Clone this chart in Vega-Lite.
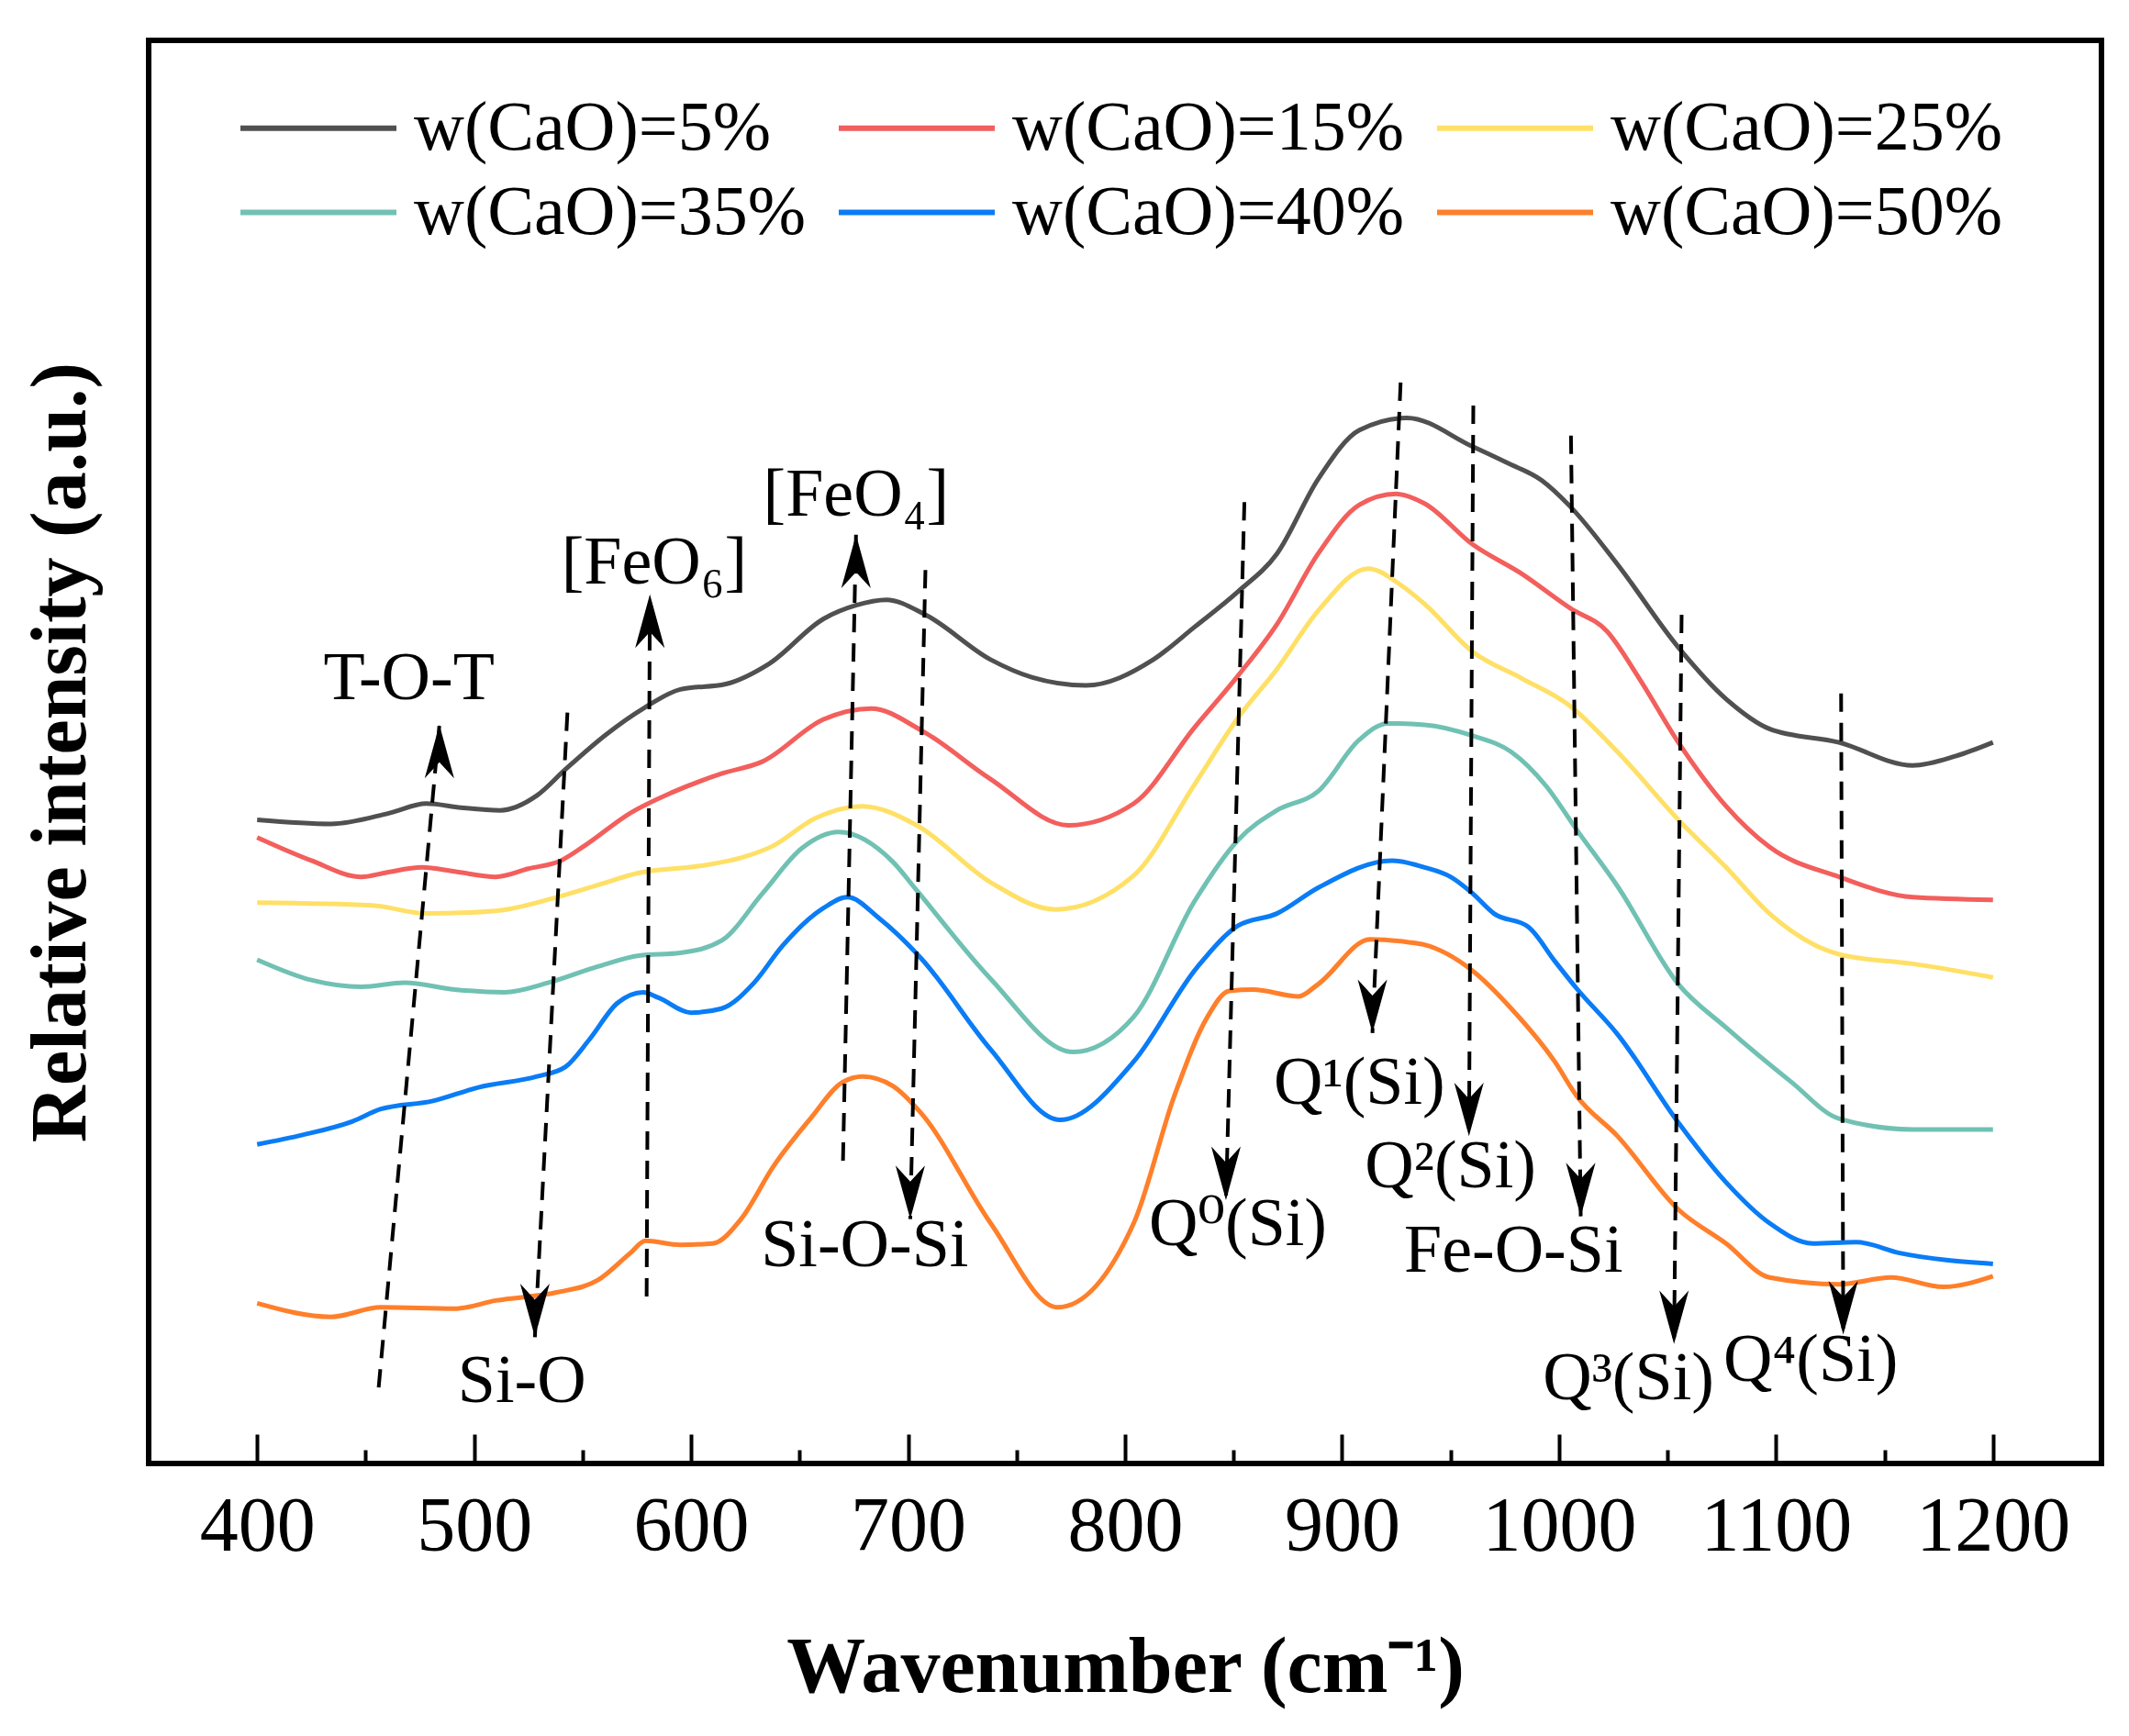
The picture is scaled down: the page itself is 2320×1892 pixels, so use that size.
{
  "$schema": "https://vega.github.io/schema/vega-lite/v6.json",
  "width": 2128,
  "height": 1551,
  "autosize": {"type": "none"},
  "padding": {"left": 162, "top": 44, "right": 30, "bottom": 297},
  "background": "white",
  "config": {
    "view": {"stroke": "black", "strokeWidth": 6},
    "font": "Liberation Serif"
  },
  "datasets": {
    "spectra": [
      {"s": "w(CaO)=5%", "x": 400, "v": 474}, {"s": "w(CaO)=5%", "x": 434, "v": 471}, {"s": "w(CaO)=5%", "x": 461, "v": 479},
      {"s": "w(CaO)=5%", "x": 478, "v": 486}, {"s": "w(CaO)=5%", "x": 494, "v": 483}, {"s": "w(CaO)=5%", "x": 512, "v": 481},
      {"s": "w(CaO)=5%", "x": 529, "v": 492}, {"s": "w(CaO)=5%", "x": 542, "v": 511}, {"s": "w(CaO)=5%", "x": 561, "v": 537},
      {"s": "w(CaO)=5%", "x": 578, "v": 556}, {"s": "w(CaO)=5%", "x": 595, "v": 570}, {"s": "w(CaO)=5%", "x": 616, "v": 574},
      {"s": "w(CaO)=5%", "x": 636, "v": 589}, {"s": "w(CaO)=5%", "x": 661, "v": 622}, {"s": "w(CaO)=5%", "x": 676, "v": 632},
      {"s": "w(CaO)=5%", "x": 690, "v": 636}, {"s": "w(CaO)=5%", "x": 708, "v": 625}, {"s": "w(CaO)=5%", "x": 738, "v": 592},
      {"s": "w(CaO)=5%", "x": 757, "v": 579}, {"s": "w(CaO)=5%", "x": 782, "v": 573}, {"s": "w(CaO)=5%", "x": 813, "v": 592},
      {"s": "w(CaO)=5%", "x": 832, "v": 616}, {"s": "w(CaO)=5%", "x": 852, "v": 642}, {"s": "w(CaO)=5%", "x": 870, "v": 670},
      {"s": "w(CaO)=5%", "x": 889, "v": 725}, {"s": "w(CaO)=5%", "x": 908, "v": 761}, {"s": "w(CaO)=5%", "x": 930, "v": 770},
      {"s": "w(CaO)=5%", "x": 960, "v": 749}, {"s": "w(CaO)=5%", "x": 976, "v": 737}, {"s": "w(CaO)=5%", "x": 992, "v": 724},
      {"s": "w(CaO)=5%", "x": 1005, "v": 705}, {"s": "w(CaO)=5%", "x": 1027, "v": 662}, {"s": "w(CaO)=5%", "x": 1055, "v": 601},
      {"s": "w(CaO)=5%", "x": 1077, "v": 563}, {"s": "w(CaO)=5%", "x": 1097, "v": 541}, {"s": "w(CaO)=5%", "x": 1129, "v": 531},
      {"s": "w(CaO)=5%", "x": 1163, "v": 514}, {"s": "w(CaO)=5%", "x": 1183, "v": 521}, {"s": "w(CaO)=5%", "x": 1200, "v": 531},

      {"s": "w(CaO)=15%", "x": 400, "v": 461}, {"s": "w(CaO)=15%", "x": 425, "v": 444}, {"s": "w(CaO)=15%", "x": 448, "v": 432},
      {"s": "w(CaO)=15%", "x": 459, "v": 435}, {"s": "w(CaO)=15%", "x": 476, "v": 439}, {"s": "w(CaO)=15%", "x": 491, "v": 436},
      {"s": "w(CaO)=15%", "x": 510, "v": 432}, {"s": "w(CaO)=15%", "x": 525, "v": 438}, {"s": "w(CaO)=15%", "x": 540, "v": 444},
      {"s": "w(CaO)=15%", "x": 551, "v": 455}, {"s": "w(CaO)=15%", "x": 572, "v": 479}, {"s": "w(CaO)=15%", "x": 591, "v": 494},
      {"s": "w(CaO)=15%", "x": 614, "v": 508}, {"s": "w(CaO)=15%", "x": 633, "v": 517}, {"s": "w(CaO)=15%", "x": 661, "v": 548},
      {"s": "w(CaO)=15%", "x": 683, "v": 556}, {"s": "w(CaO)=15%", "x": 706, "v": 540}, {"s": "w(CaO)=15%", "x": 738, "v": 504},
      {"s": "w(CaO)=15%", "x": 774, "v": 470}, {"s": "w(CaO)=15%", "x": 804, "v": 486}, {"s": "w(CaO)=15%", "x": 832, "v": 542},
      {"s": "w(CaO)=15%", "x": 852, "v": 580}, {"s": "w(CaO)=15%", "x": 870, "v": 618}, {"s": "w(CaO)=15%", "x": 889, "v": 670},
      {"s": "w(CaO)=15%", "x": 908, "v": 706}, {"s": "w(CaO)=15%", "x": 925, "v": 714}, {"s": "w(CaO)=15%", "x": 938, "v": 707},
      {"s": "w(CaO)=15%", "x": 960, "v": 677}, {"s": "w(CaO)=15%", "x": 983, "v": 655}, {"s": "w(CaO)=15%", "x": 1005, "v": 630},
      {"s": "w(CaO)=15%", "x": 1022, "v": 613}, {"s": "w(CaO)=15%", "x": 1037, "v": 578}, {"s": "w(CaO)=15%", "x": 1055, "v": 531},
      {"s": "w(CaO)=15%", "x": 1077, "v": 484}, {"s": "w(CaO)=15%", "x": 1097, "v": 454}, {"s": "w(CaO)=15%", "x": 1129, "v": 432},
      {"s": "w(CaO)=15%", "x": 1163, "v": 417}, {"s": "w(CaO)=15%", "x": 1200, "v": 415},

      {"s": "w(CaO)=25%", "x": 400, "v": 413}, {"s": "w(CaO)=25%", "x": 453, "v": 411}, {"s": "w(CaO)=25%", "x": 478, "v": 405},
      {"s": "w(CaO)=25%", "x": 510, "v": 407}, {"s": "w(CaO)=25%", "x": 538, "v": 417}, {"s": "w(CaO)=25%", "x": 557, "v": 426},
      {"s": "w(CaO)=25%", "x": 576, "v": 435}, {"s": "w(CaO)=25%", "x": 604, "v": 440}, {"s": "w(CaO)=25%", "x": 623, "v": 446},
      {"s": "w(CaO)=25%", "x": 638, "v": 455}, {"s": "w(CaO)=25%", "x": 657, "v": 475}, {"s": "w(CaO)=25%", "x": 679, "v": 484},
      {"s": "w(CaO)=25%", "x": 704, "v": 470}, {"s": "w(CaO)=25%", "x": 738, "v": 428}, {"s": "w(CaO)=25%", "x": 768, "v": 408},
      {"s": "w(CaO)=25%", "x": 804, "v": 433}, {"s": "w(CaO)=25%", "x": 832, "v": 500}, {"s": "w(CaO)=25%", "x": 852, "v": 549},
      {"s": "w(CaO)=25%", "x": 870, "v": 585}, {"s": "w(CaO)=25%", "x": 889, "v": 628}, {"s": "w(CaO)=25%", "x": 912, "v": 659},
      {"s": "w(CaO)=25%", "x": 927, "v": 647}, {"s": "w(CaO)=25%", "x": 938, "v": 633}, {"s": "w(CaO)=25%", "x": 960, "v": 598},
      {"s": "w(CaO)=25%", "x": 983, "v": 578}, {"s": "w(CaO)=25%", "x": 1005, "v": 558}, {"s": "w(CaO)=25%", "x": 1027, "v": 524},
      {"s": "w(CaO)=25%", "x": 1055, "v": 474}, {"s": "w(CaO)=25%", "x": 1077, "v": 439}, {"s": "w(CaO)=25%", "x": 1097, "v": 405},
      {"s": "w(CaO)=25%", "x": 1129, "v": 375}, {"s": "w(CaO)=25%", "x": 1163, "v": 368}, {"s": "w(CaO)=25%", "x": 1200, "v": 358},

      {"s": "w(CaO)=35%", "x": 400, "v": 371}, {"s": "w(CaO)=35%", "x": 425, "v": 356}, {"s": "w(CaO)=35%", "x": 448, "v": 351},
      {"s": "w(CaO)=35%", "x": 468, "v": 354}, {"s": "w(CaO)=35%", "x": 491, "v": 349}, {"s": "w(CaO)=35%", "x": 514, "v": 347},
      {"s": "w(CaO)=35%", "x": 534, "v": 354}, {"s": "w(CaO)=35%", "x": 557, "v": 366}, {"s": "w(CaO)=35%", "x": 576, "v": 374},
      {"s": "w(CaO)=35%", "x": 595, "v": 376}, {"s": "w(CaO)=35%", "x": 614, "v": 385}, {"s": "w(CaO)=35%", "x": 633, "v": 420},
      {"s": "w(CaO)=35%", "x": 651, "v": 453}, {"s": "w(CaO)=35%", "x": 668, "v": 465}, {"s": "w(CaO)=35%", "x": 693, "v": 443},
      {"s": "w(CaO)=35%", "x": 704, "v": 422}, {"s": "w(CaO)=35%", "x": 738, "v": 357}, {"s": "w(CaO)=35%", "x": 776, "v": 303},
      {"s": "w(CaO)=35%", "x": 804, "v": 329}, {"s": "w(CaO)=35%", "x": 832, "v": 414}, {"s": "w(CaO)=35%", "x": 852, "v": 459},
      {"s": "w(CaO)=35%", "x": 870, "v": 481}, {"s": "w(CaO)=35%", "x": 889, "v": 495}, {"s": "w(CaO)=35%", "x": 908, "v": 533},
      {"s": "w(CaO)=35%", "x": 921, "v": 545}, {"s": "w(CaO)=35%", "x": 938, "v": 544}, {"s": "w(CaO)=35%", "x": 960, "v": 536},
      {"s": "w(CaO)=35%", "x": 978, "v": 524}, {"s": "w(CaO)=35%", "x": 994, "v": 499}, {"s": "w(CaO)=35%", "x": 1008, "v": 467},
      {"s": "w(CaO)=35%", "x": 1027, "v": 425}, {"s": "w(CaO)=35%", "x": 1055, "v": 353}, {"s": "w(CaO)=35%", "x": 1077, "v": 321},
      {"s": "w(CaO)=35%", "x": 1107, "v": 281}, {"s": "w(CaO)=35%", "x": 1129, "v": 254}, {"s": "w(CaO)=35%", "x": 1163, "v": 246},
      {"s": "w(CaO)=35%", "x": 1200, "v": 246},

      {"s": "w(CaO)=40%", "x": 400, "v": 235}, {"s": "w(CaO)=40%", "x": 421, "v": 242}, {"s": "w(CaO)=40%", "x": 444, "v": 252},
      {"s": "w(CaO)=40%", "x": 457, "v": 261}, {"s": "w(CaO)=40%", "x": 481, "v": 267}, {"s": "w(CaO)=40%", "x": 502, "v": 277},
      {"s": "w(CaO)=40%", "x": 529, "v": 285}, {"s": "w(CaO)=40%", "x": 542, "v": 292}, {"s": "w(CaO)=40%", "x": 553, "v": 312},
      {"s": "w(CaO)=40%", "x": 566, "v": 339}, {"s": "w(CaO)=40%", "x": 578, "v": 347}, {"s": "w(CaO)=40%", "x": 585, "v": 343},
      {"s": "w(CaO)=40%", "x": 600, "v": 332}, {"s": "w(CaO)=40%", "x": 614, "v": 335}, {"s": "w(CaO)=40%", "x": 629, "v": 354},
      {"s": "w(CaO)=40%", "x": 642, "v": 381}, {"s": "w(CaO)=40%", "x": 661, "v": 409}, {"s": "w(CaO)=40%", "x": 672, "v": 417},
      {"s": "w(CaO)=40%", "x": 687, "v": 401}, {"s": "w(CaO)=40%", "x": 706, "v": 372}, {"s": "w(CaO)=40%", "x": 738, "v": 305},
      {"s": "w(CaO)=40%", "x": 770, "v": 253}, {"s": "w(CaO)=40%", "x": 804, "v": 296}, {"s": "w(CaO)=40%", "x": 833, "v": 365},
      {"s": "w(CaO)=40%", "x": 852, "v": 396}, {"s": "w(CaO)=40%", "x": 870, "v": 405}, {"s": "w(CaO)=40%", "x": 889, "v": 424},
      {"s": "w(CaO)=40%", "x": 923, "v": 444}, {"s": "w(CaO)=40%", "x": 938, "v": 439}, {"s": "w(CaO)=40%", "x": 950, "v": 432},
      {"s": "w(CaO)=40%", "x": 960, "v": 420}, {"s": "w(CaO)=40%", "x": 970, "v": 405}, {"s": "w(CaO)=40%", "x": 986, "v": 395},
      {"s": "w(CaO)=40%", "x": 998, "v": 370}, {"s": "w(CaO)=40%", "x": 1008, "v": 350}, {"s": "w(CaO)=40%", "x": 1027, "v": 316},
      {"s": "w(CaO)=40%", "x": 1055, "v": 251}, {"s": "w(CaO)=40%", "x": 1077, "v": 207}, {"s": "w(CaO)=40%", "x": 1097, "v": 177},
      {"s": "w(CaO)=40%", "x": 1117, "v": 162}, {"s": "w(CaO)=40%", "x": 1137, "v": 163}, {"s": "w(CaO)=40%", "x": 1157, "v": 155},
      {"s": "w(CaO)=40%", "x": 1200, "v": 147},

      {"s": "w(CaO)=50%", "x": 400, "v": 118}, {"s": "w(CaO)=50%", "x": 434, "v": 108}, {"s": "w(CaO)=50%", "x": 457, "v": 115},
      {"s": "w(CaO)=50%", "x": 491, "v": 114}, {"s": "w(CaO)=50%", "x": 510, "v": 120}, {"s": "w(CaO)=50%", "x": 538, "v": 126},
      {"s": "w(CaO)=50%", "x": 557, "v": 135}, {"s": "w(CaO)=50%", "x": 572, "v": 155}, {"s": "w(CaO)=50%", "x": 579, "v": 164},
      {"s": "w(CaO)=50%", "x": 595, "v": 161}, {"s": "w(CaO)=50%", "x": 610, "v": 162}, {"s": "w(CaO)=50%", "x": 623, "v": 180},
      {"s": "w(CaO)=50%", "x": 638, "v": 219}, {"s": "w(CaO)=50%", "x": 655, "v": 254}, {"s": "w(CaO)=50%", "x": 670, "v": 281},
      {"s": "w(CaO)=50%", "x": 679, "v": 285}, {"s": "w(CaO)=50%", "x": 693, "v": 278}, {"s": "w(CaO)=50%", "x": 706, "v": 258},
      {"s": "w(CaO)=50%", "x": 738, "v": 177}, {"s": "w(CaO)=50%", "x": 769, "v": 115}, {"s": "w(CaO)=50%", "x": 804, "v": 177},
      {"s": "w(CaO)=50%", "x": 823, "v": 272}, {"s": "w(CaO)=50%", "x": 838, "v": 329}, {"s": "w(CaO)=50%", "x": 848, "v": 348},
      {"s": "w(CaO)=50%", "x": 859, "v": 349}, {"s": "w(CaO)=50%", "x": 880, "v": 344}, {"s": "w(CaO)=50%", "x": 889, "v": 353},
      {"s": "w(CaO)=50%", "x": 913, "v": 386}, {"s": "w(CaO)=50%", "x": 930, "v": 384}, {"s": "w(CaO)=50%", "x": 938, "v": 382},
      {"s": "w(CaO)=50%", "x": 960, "v": 363}, {"s": "w(CaO)=50%", "x": 978, "v": 335}, {"s": "w(CaO)=50%", "x": 998, "v": 296},
      {"s": "w(CaO)=50%", "x": 1008, "v": 271}, {"s": "w(CaO)=50%", "x": 1027, "v": 241}, {"s": "w(CaO)=50%", "x": 1055, "v": 187},
      {"s": "w(CaO)=50%", "x": 1077, "v": 162}, {"s": "w(CaO)=50%", "x": 1097, "v": 137}, {"s": "w(CaO)=50%", "x": 1129, "v": 132},
      {"s": "w(CaO)=50%", "x": 1153, "v": 137}, {"s": "w(CaO)=50%", "x": 1177, "v": 130}, {"s": "w(CaO)=50%", "x": 1200, "v": 138}
    ],
    "arrows": [
      {"name": "T-O-T", "x1": 456, "y1": 56, "x2": 484, "y2": 544, "dir": "up"},
      {"name": "Si-O", "x1": 543, "y1": 553, "x2": 528, "y2": 93, "dir": "down"},
      {"name": "FeO6", "x1": 579.5, "y1": 123, "x2": 581, "y2": 640, "dir": "up"},
      {"name": "FeO4", "x1": 670, "y1": 223, "x2": 676, "y2": 684, "dir": "up"},
      {"name": "Si-O-Si", "x1": 708, "y1": 658, "x2": 701, "y2": 180, "dir": "down"},
      {"name": "Q0", "x1": 855, "y1": 708, "x2": 846.5, "y2": 194, "dir": "down"},
      {"name": "Q1", "x1": 927, "y1": 796, "x2": 914, "y2": 317, "dir": "down"},
      {"name": "Q2", "x1": 960.5, "y1": 779, "x2": 958.5, "y2": 241, "dir": "down"},
      {"name": "Fe-O-Si", "x1": 1005.5, "y1": 757, "x2": 1010, "y2": 182, "dir": "down"},
      {"name": "Q3", "x1": 1056.5, "y1": 625, "x2": 1053, "y2": 88, "dir": "down"},
      {"name": "Q4", "x1": 1130, "y1": 567, "x2": 1131, "y2": 95, "dir": "down"}
    ],
    "labels": [
      {"label": "T-O-T", "x": 470, "v": 578},
      {"label": "Si-O", "x": 522, "v": 60},
      {"label": "[FeO₆]", "x": 583, "v": 663},
      {"label": "[FeO₄]", "x": 676, "v": 713},
      {"label": "Si-O-Si", "x": 680, "v": 160},
      {"label": "Q⁰(Si)", "x": 852, "v": 176},
      {"label": "Q¹(Si)", "x": 908, "v": 280},
      {"label": "Q²(Si)", "x": 950, "v": 218},
      {"label": "Fe-O-Si", "x": 979, "v": 156},
      {"label": "Q³(Si)", "x": 1032, "v": 62},
      {"label": "Q⁴(Si)", "x": 1116, "v": 76}
    ]
  },
  "layer": [
    {
      "data": {"name": "spectra"},
      "mark": {"type": "line", "strokeWidth": 5, "interpolate": "monotone"},
      "encoding": {
        "x": {
          "field": "x",
          "type": "quantitative",
          "scale": {"domain": [350, 1250], "nice": false, "zero": false},
          "title": "Wavenumber (cm⁻¹)",
          "axis": {
            "values": [400, 450, 500, 550, 600, 650, 700, 750, 800, 850, 900, 950, 1000, 1050, 1100, 1150, 1200],
            "format": "d",
            "labelExpr": "datum.value % 100 === 0 ? datum.label : ''",
            "tickSize": {"condition": {"test": "datum.value % 100 === 0", "value": -32}, "value": -15},
            "tickWidth": 4,
            "tickColor": "black",
            "domain": false,
            "grid": false,
            "labelFont": "Liberation Serif",
            "labelFontSize": 84,
            "labelColor": "black",
            "labelPadding": 60,
            "labelOverlap": false,
            "labelFlush": false,
            "titleFont": "Liberation Serif",
            "titleFontSize": 86,
            "titleFontWeight": "bold",
            "titleColor": "black",
            "titleBaseline": "alphabetic",
            "titlePadding": 120
          }
        },
        "y": {
          "field": "v",
          "type": "quantitative",
          "scale": {"domain": [0, 1048], "nice": false, "zero": false},
          "title": "Relative intensity (a.u.)",
          "axis": {
            "labels": false,
            "ticks": false,
            "domain": false,
            "grid": false,
            "titleFont": "Liberation Serif",
            "titleFontSize": 86,
            "titleFontWeight": "bold",
            "titleColor": "black",
            "titleBaseline": "alphabetic",
            "titlePadding": 70
          }
        },
        "color": {
          "field": "s",
          "type": "nominal",
          "scale": {
            "domain": ["w(CaO)=5%", "w(CaO)=15%", "w(CaO)=25%", "w(CaO)=35%", "w(CaO)=40%", "w(CaO)=50%"],
            "range": ["#505050", "#f25f5c", "#ffe066", "#70c1b3", "#0a7cf6", "#ff7f2a"]
          },
          "legend": {
            "orient": "none",
            "legendX": 97,
            "legendY": 50,
            "direction": "horizontal",
            "columns": 3,
            "title": null,
            "symbolType": "M-1,0L3,0",
            "symbolSize": 7225,
            "symbolStrokeWidth": 6,
            "labelFont": "Liberation Serif",
            "labelFontSize": 76,
            "labelColor": "black",
            "labelOffset": 101,
            "labelLimit": 1000,
            "columnPadding": 24,
            "rowPadding": 8
          }
        }
      }
    },
    {
      "data": {"name": "arrows"},
      "mark": {"type": "rule", "strokeDash": [20, 12], "strokeWidth": 4, "color": "black"},
      "encoding": {
        "x": {"field": "x1", "type": "quantitative"},
        "y": {"field": "y1", "type": "quantitative"},
        "x2": {"field": "x2"},
        "y2": {"field": "y2"}
      }
    },
    {
      "data": {"name": "arrows"},
      "mark": {"type": "point", "filled": true, "opacity": 1, "size": 3400, "color": "black", "strokeWidth": 0},
      "encoding": {
        "x": {"field": "x2", "type": "quantitative"},
        "y": {"field": "y2", "type": "quantitative"},
        "shape": {
          "field": "dir",
          "type": "nominal",
          "scale": {
            "domain": ["up", "down"],
            "range": ["M0,0L0.55,2L0,1.4L-0.55,2Z", "M0,0L0.55,-2L0,-1.4L-0.55,-2Z"]
          },
          "legend": null
        }
      }
    },
    {
      "data": {"name": "labels"},
      "mark": {"type": "text", "font": "Liberation Serif, DejaVu Serif", "fontSize": 74, "color": "black", "align": "center", "baseline": "middle"},
      "encoding": {
        "x": {"field": "x", "type": "quantitative"},
        "y": {"field": "v", "type": "quantitative"},
        "text": {"field": "label"}
      }
    }
  ]
}
